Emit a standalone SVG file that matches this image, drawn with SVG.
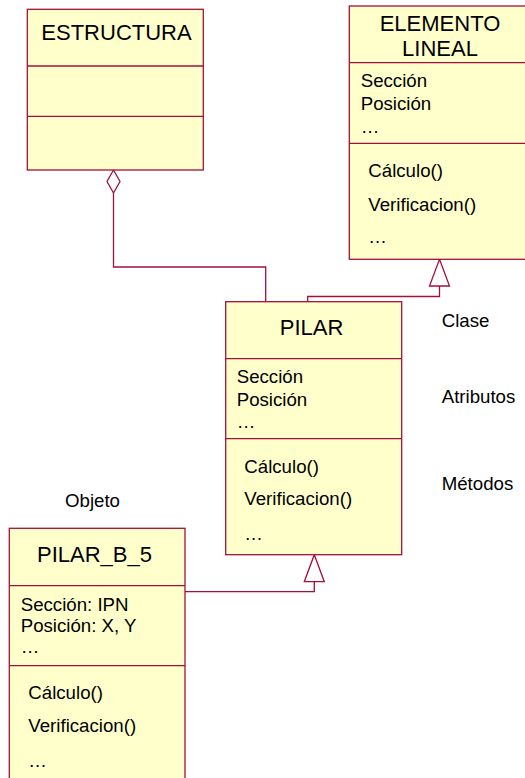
<svg xmlns="http://www.w3.org/2000/svg" width="525" height="778" viewBox="0 0 525 778">
  <style>
    .box { fill: #ffffcc; stroke: #a50f3c; stroke-width: 1.3; }
    .sep { stroke: #a50f3c; stroke-width: 1.3; fill: none; }
    .conn { stroke: #a50f3c; stroke-width: 1.3; fill: none; }
    .head { stroke: #a50f3c; stroke-width: 1.3; fill: #ffffff; }
    text { font-family: "Liberation Sans", Arial, sans-serif; fill: #000000; }
    .title { font-size: 22px; text-anchor: middle; }
    .body { font-size: 18.67px; }
  </style>

  <g id="connectors">
    <!-- aggregation: PILAR part of ESTRUCTURA -->
    <polyline class="conn" points="113.5,193 113.5,267 265.7,267 265.7,301.7"/>
    <polygon class="head" points="113.5,170 120,181.5 113.5,193 107,181.5"/>
    <!-- generalization: PILAR -> ELEMENTO LINEAL -->
    <polyline class="conn" points="307.7,301.7 307.7,296.5 439.5,296.5 439.5,286"/>
    <polygon class="head" points="439.5,259.3 449.5,286 429.5,286"/>
    <!-- instance: PILAR_B_5 -> PILAR -->
    <polyline class="conn" points="185,591.7 314.3,591.7 314.3,581.7"/>
    <polygon class="head" points="314.3,554.7 324.3,581.7 304.3,581.7"/>
  </g>

  <g id="estructura">
    <rect class="box" x="27.3" y="9.3" width="176" height="160.7"/>
    <line class="sep" x1="27.3" y1="66" x2="203.3" y2="66"/>
    <line class="sep" x1="27.3" y1="116.3" x2="203.3" y2="116.3"/>
    <text class="title" x="116.5" y="39.5">ESTRUCTURA</text>
  </g>

  <g id="elemento-lineal">
    <rect class="box" x="349.3" y="6" width="181.4" height="253.3"/>
    <line class="sep" x1="349.3" y1="62.7" x2="530.7" y2="62.7"/>
    <line class="sep" x1="349.3" y1="143.3" x2="530.7" y2="143.3"/>
    <text class="title" x="440" y="30.7">ELEMENTO</text>
    <text class="title" x="440" y="56">LINEAL</text>
    <text class="body" x="360.7" y="87.3">Sección</text>
    <text class="body" x="360.7" y="110">Posición</text>
    <text class="body" x="360.7" y="132.7">…</text>
    <text class="body" x="368.3" y="176.7">Cálculo()</text>
    <text class="body" x="368.3" y="210.7">Verificacion()</text>
    <text class="body" x="368.3" y="243">…</text>
  </g>

  <g id="pilar">
    <rect class="box" x="225.7" y="301.7" width="176" height="253"/>
    <line class="sep" x1="225.7" y1="358.7" x2="401.7" y2="358.7"/>
    <line class="sep" x1="225.7" y1="438.7" x2="401.7" y2="438.7"/>
    <text class="title" x="311.5" y="335">PILAR</text>
    <text class="body" x="236.7" y="382.7">Sección</text>
    <text class="body" x="236.7" y="405.7">Posición</text>
    <text class="body" x="236.7" y="428">…</text>
    <text class="body" x="244.3" y="472.7">Cálculo()</text>
    <text class="body" x="244.3" y="505">Verificacion()</text>
    <text class="body" x="244.3" y="540">…</text>
  </g>

  <g id="pilar-b-5">
    <rect class="box" x="9.3" y="528.3" width="175.7" height="260"/>
    <line class="sep" x1="9.3" y1="585.7" x2="185" y2="585.7"/>
    <line class="sep" x1="9.3" y1="665.7" x2="185" y2="665.7"/>
    <text class="title" x="94.5" y="562.3">PILAR_B_5</text>
    <text class="body" x="20.7" y="610.7">Sección: IPN</text>
    <text class="body" x="20.7" y="631.7">Posición: X, Y</text>
    <text class="body" x="20.7" y="653">…</text>
    <text class="body" x="28.3" y="699">Cálculo()</text>
    <text class="body" x="28.3" y="732.3">Verificacion()</text>
    <text class="body" x="28.3" y="766.7">…</text>
  </g>

  <g id="labels">
    <text class="body" x="441.7" y="326.7">Clase</text>
    <text class="body" x="441.7" y="402.7">Atributos</text>
    <text class="body" x="441.7" y="490">Métodos</text>
    <text class="body" x="65" y="506.7">Objeto</text>
  </g>
</svg>
